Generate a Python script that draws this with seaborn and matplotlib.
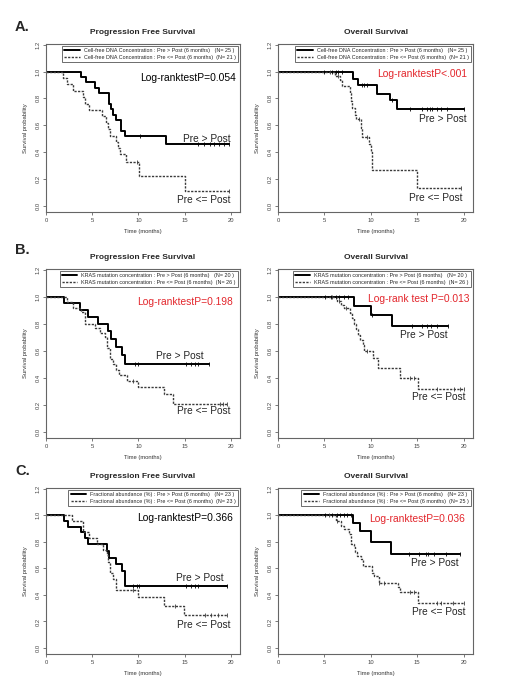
import numpy as np
import pandas as pd
import seaborn as sns
import matplotlib.pyplot as plt

sns.set_style("white")
plt.rcParams['font.family'] = ['Liberation Sans', 'DejaVu Sans']

# --- Kaplan-Meier step curves (time in months, survival) ---
# A. cell-free DNA concentration, progression free survival
a_pfs_hi_t = [0, 3.8, 4.3, 5.3, 5.7, 6.8, 7.0, 7.2, 7.6, 8.1, 8.6, 13.0, 19.8]
a_pfs_hi_s = [1.0, 0.96, 0.92, 0.88, 0.84, 0.76, 0.72, 0.68, 0.64, 0.56, 0.52, 0.46, 0.46]
a_pfs_hi_c = [10.2, 16.4, 17.1, 17.7, 18.2, 18.7, 19.3, 19.8]
a_pfs_lo_t = [0, 1.8, 2.3, 2.9, 4.0, 4.2, 4.7, 6.1, 6.5, 6.7, 6.9, 7.6, 7.8, 8.0, 8.65, 10.1, 15.0, 19.8]
a_pfs_lo_s = [1.0, 0.952, 0.905, 0.857, 0.81, 0.762, 0.714, 0.667, 0.619, 0.571, 0.524,
              0.476, 0.429, 0.39, 0.33, 0.22, 0.11, 0.11]
a_pfs_lo_c = [9.9, 19.8]

# A. cell-free DNA concentration, overall survival
a_os_hi_t = [0, 8.1, 8.6, 10.7, 12.1, 12.8, 20.0]
a_os_hi_s = [1.0, 0.944, 0.90, 0.835, 0.79, 0.725, 0.725]
a_os_hi_c = [5.0, 5.8, 6.2, 6.5, 6.9, 9.05, 9.3, 9.6, 12.3, 14.2, 15.5, 16.0, 16.35,
             16.6, 17.1, 17.6, 18.2, 20.0]
a_os_lo_t = [0, 6.1, 6.7, 6.9, 7.7, 7.9, 8.0, 8.25, 8.4, 8.9, 9.05, 9.85, 10.0, 10.15, 15.0, 19.7]
a_os_lo_s = [1.0, 0.97, 0.94, 0.89, 0.84, 0.78, 0.73, 0.68, 0.65, 0.58, 0.51, 0.46, 0.40,
             0.27, 0.13, 0.13]
a_os_lo_c = [5.6, 6.5, 8.7, 9.6, 19.7]

# B. KRAS mutation concentration, progression free survival
b_pfs_hi_t = [0, 1.95, 3.7, 4.6, 5.6, 6.7, 7.0, 7.6, 8.2, 8.6, 17.6]
b_pfs_hi_s = [1.0, 0.95, 0.90, 0.85, 0.80, 0.75, 0.69, 0.63, 0.57, 0.50, 0.50]
b_pfs_hi_c = [9.6, 10.0, 15.2, 15.7, 16.1, 16.5, 17.6]
b_pfs_lo_t = [0, 2.3, 2.9, 3.8, 4.2, 5.25, 5.85, 6.4, 6.6, 6.9, 7.25, 7.6, 7.9, 8.75, 10.0,
              12.75, 13.8, 19.6]
b_pfs_lo_s = [1.0, 0.96, 0.92, 0.885, 0.80, 0.77, 0.73, 0.70, 0.62, 0.54, 0.50, 0.46, 0.42,
              0.38, 0.33, 0.28, 0.21, 0.21]
b_pfs_lo_c = [9.4, 18.8, 19.2, 19.6]

# B. KRAS mutation concentration, overall survival
b_os_hi_t = [0, 8.15, 10.0, 12.25, 18.3]
b_os_hi_s = [1.0, 0.934, 0.864, 0.78, 0.78]
b_os_hi_c = [5.1, 5.7, 6.2, 6.6, 7.1, 7.5, 10.1, 14.4, 15.5, 16.0, 16.5, 17.1, 18.3]
b_os_lo_t = [0, 6.3, 6.8, 7.1, 7.8, 8.0, 8.15, 8.4, 8.6, 8.85, 9.15, 9.3, 10.2, 10.8, 13.1,
             15.1, 20.0]
b_os_lo_s = [1.0, 0.97, 0.94, 0.92, 0.88, 0.84, 0.80, 0.76, 0.72, 0.68, 0.64, 0.60, 0.55,
             0.47, 0.40, 0.32, 0.32]
b_os_lo_c = [5.8, 6.6, 7.3, 9.6, 14.2, 14.6, 17.1, 18.9, 19.6, 20.0]

# C. fractional abundance (%), progression free survival
c_pfs_hi_t = [0, 1.95, 2.4, 3.8, 4.2, 4.5, 6.6, 6.8, 7.6, 8.25, 8.55, 19.6]
c_pfs_hi_s = [1.0, 0.957, 0.913, 0.87, 0.826, 0.78, 0.73, 0.68, 0.63, 0.58, 0.47, 0.47]
c_pfs_hi_c = [9.4, 9.8, 10.1, 15.2, 15.7, 16.1, 16.5, 19.6]
c_pfs_lo_t = [0, 2.8, 4.0, 4.7, 5.55, 6.2, 6.55, 6.7, 6.9, 7.25, 7.6, 10.0, 12.75, 14.9, 19.6]
c_pfs_lo_s = [1.0, 0.957, 0.87, 0.826, 0.78, 0.74, 0.70, 0.65, 0.565, 0.52, 0.435, 0.385,
              0.315, 0.25, 0.25]
c_pfs_lo_c = [9.4, 14.0, 17.2, 17.9, 18.6, 19.6]

# C. fractional abundance (%), overall survival
c_os_hi_t = [0, 8.1, 8.8, 10.0, 12.2, 19.6]
c_os_hi_s = [1.0, 0.94, 0.88, 0.80, 0.71, 0.71]
c_os_hi_c = [5.1, 5.8, 6.35, 6.7, 7.1, 7.4, 7.9, 14.1, 15.2, 15.9, 16.2, 16.8, 18.1, 19.6]
c_os_lo_t = [0, 6.25, 6.8, 7.1, 7.6, 7.9, 8.15, 8.3, 8.5, 8.9, 9.1, 10.1, 10.3, 10.85, 12.9,
             13.1, 15.1, 20.0]
c_os_lo_s = [1.0, 0.956, 0.917, 0.90, 0.857, 0.786, 0.76, 0.72, 0.695, 0.67, 0.617, 0.565,
             0.545, 0.49, 0.46, 0.42, 0.34, 0.34]
c_os_lo_c = [5.5, 6.3, 10.9, 11.4, 14.2, 14.6, 17.1, 17.5, 18.8, 20.0]

markers = ["Cell-free DNA Concentration", "KRAS mutation concentration", "Fractional abundance (%)"]
n_pfs = [(25, 21), (20, 26), (23, 23)]
n_os = [(25, 21), (20, 26), (23, 25)]
pvals_pfs = ["Log-ranktestP=0.054", "Log-ranktestP=0.198", "Log-ranktestP=0.366"]
pvals_os = ["Log-ranktestP<.001", "Log-rank test P=0.013", "Log-ranktestP=0.036"]
RED = "#e3262c"

panels = [
    # row, col, hi, lo, N, pval, pcolor, pval pos, "Pre > Post" pos, "Pre <= Post" pos
    (0, 0, (a_pfs_hi_t, a_pfs_hi_s, a_pfs_hi_c), (a_pfs_lo_t, a_pfs_lo_s, a_pfs_lo_c),
     n_pfs[0], pvals_pfs[0], "black", (20.6, 0.955), (20.0, 0.50), (20.0, 0.045)),
    (0, 1, (a_os_hi_t, a_os_hi_s, a_os_hi_c), (a_os_lo_t, a_os_lo_s, a_os_lo_c),
     n_os[0], pvals_os[0], RED, (20.4, 0.98), (20.3, 0.645), (19.9, 0.06)),
    (1, 0, (b_pfs_hi_t, b_pfs_hi_s, b_pfs_hi_c), (b_pfs_lo_t, b_pfs_lo_s, b_pfs_lo_c),
     n_pfs[1], pvals_pfs[1], RED, (20.2, 0.963), (17.1, 0.563), (20.0, 0.155)),
    (1, 1, (b_os_hi_t, b_os_hi_s, b_os_hi_c), (b_os_lo_t, b_os_lo_s, b_os_lo_c),
     n_os[1], pvals_os[1], RED, (20.6, 0.98), (18.3, 0.716), (20.2, 0.256)),
    (2, 0, (c_pfs_hi_t, c_pfs_hi_s, c_pfs_hi_c), (c_pfs_lo_t, c_pfs_lo_s, c_pfs_lo_c),
     n_pfs[2], pvals_pfs[2], "black", (20.2, 0.98), (19.2, 0.53), (20.0, 0.17)),
    (2, 1, (c_os_hi_t, c_os_hi_s, c_os_hi_c), (c_os_lo_t, c_os_lo_s, c_os_lo_c),
     n_os[2], pvals_os[2], RED, (20.1, 0.97), (19.4, 0.64), (20.2, 0.27)),
]

W, H = 513, 684
col_x = [(46, 194), (278, 195)]
row_y = [(44, 168), (269, 169), (488, 166)]
titles = ["Progression Free Survival", "Overall Survival"]
letters = [("A.", 27), ("B.", 250), ("C.", 471)]


def km_curve(ax, t, s, cens, solid, label):
    df = pd.DataFrame({"time": t, "surv": s})
    if solid:
        kw = dict(color="black", linewidth=1.4, linestyle="-")
    else:
        kw = dict(color="#3a3a3a", linewidth=1.0, linestyle=(0, (1.6, 1.0)))
    sns.lineplot(data=df, x="time", y="surv", ax=ax, drawstyle="steps-post",
                 estimator=None, sort=False, label=label, **kw)
    idx = np.searchsorted(t, cens, side="right") - 1
    cy = np.asarray(s)[idx]
    sns.scatterplot(x=cens, y=cy, ax=ax, marker="|", s=12, color=kw["color"],
                    linewidth=0.6, legend=False, zorder=3)


fig = plt.figure(figsize=(W / 100, H / 100), dpi=100)

for row, col, hi, lo, ns, ptxt, pcol, ppos, hipos, lopos in panels:
    x0, w = col_x[col]
    y0, h = row_y[row]
    ax = fig.add_axes([x0 / W, 1 - (y0 + h) / H, w / W, h / H])
    name = markers[row]
    km_curve(ax, *hi, True, f"{name} : Pre > Post (6 months)   (N= {ns[0]} )")
    km_curve(ax, *lo, False, f"{name} : Pre <= Post (6 months)  (N= {ns[1]} )")

    ax.set_xlim(0, 21)
    ax.set_ylim(-0.045, 1.205)
    ax.set_xticks([0, 5, 10, 15, 20])
    ax.set_yticks(np.round(np.arange(0, 1.21, 0.2), 1))
    ax.set_yticklabels([f"{v:.1f}" for v in np.arange(0, 1.21, 0.2)],
                       rotation=90, va="center")
    ax.tick_params(bottom=True, left=True, length=2.5, width=0.5, pad=1.5,
                   labelsize=4.2, colors="#444444")
    for sp in ax.spines.values():
        sp.set_color("#666666")
        sp.set_linewidth(0.8)
    ax.set_xlabel("Time (months)", fontsize=4.2, labelpad=5, color="#333333")
    ax.set_ylabel("Survival probability", fontsize=4.2, labelpad=5, color="#333333")
    ax.set_title(titles[col], fontsize=6, fontweight="bold", pad=7)

    leg = ax.legend(loc="upper right", fontsize=3.9, frameon=True, fancybox=False,
                    edgecolor="#555555", framealpha=1, borderpad=0.45,
                    labelspacing=0.3, handlelength=2.8, borderaxespad=0.3)
    leg.get_frame().set_linewidth(0.6)

    ax.text(*ppos, ptxt, ha="right", va="center", fontsize=7.4, color=pcol)
    ax.text(*hipos, "Pre > Post", ha="right", va="center", fontsize=7.3)
    ax.text(*lopos, "Pre <= Post", ha="right", va="center", fontsize=7.3)

for letter, yc in letters:
    fig.text(15 / W, 1 - yc / H, letter, fontsize=10.5, fontweight="bold", va="center")

fig.savefig("out.png", dpi=100)
